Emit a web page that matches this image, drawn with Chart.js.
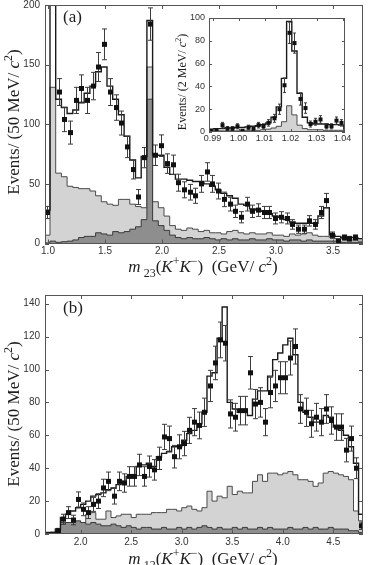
<!DOCTYPE html>
<html>
<head>
<meta charset="utf-8">
<script src="https://cdn.jsdelivr.net/npm/chart.js@4.4.1/dist/chart.umd.min.js"></script>
<style>
  html, body { margin: 0; padding: 0; background: #fff; width: 368px; height: 565px; overflow: hidden; }
  canvas { position: absolute; }
  #cA { left: 0; top: 0; }
  #cB { left: 0; top: 282px; }
  #cI { left: 172px; top: 8px; }
</style>
</head>
<body>
<canvas id="cA" width="368" height="282"></canvas>
<canvas id="cB" width="368" height="283"></canvas>
<canvas id="cI" width="180" height="140"></canvas>
<script>
/* ============================================================
   DATA — 50 MeV bins (panels a, b), 2 MeV bins (inset)
============================================================ */
const LO_A = 0.9675, BIN_A = 0.05;   // m23 bins
const LO_B = 1.65,   BIN_B = 0.05;   // m12 bins
const LO_I = 0.9885, BIN_I = 0.002;  // phi region bins

const dataA = [26, null, 127, 104, 93, 120, 130, 120, 132, 148,
               167, 127, 114, 101, 81, 62, 39, 72, 184, 74,
               82, 67, 66, 51, 45, 43, 40, 50, 60, 50,
               44, 37, 33, 27, 22, 33, 27, 28, 26, 26,
               21, 22, 21, 16, 12, 12, 19, 16, 26, 36,
               7, 2, 5, 4, 5, null];
const fitA  = [28, 420, 121, 114, 109, 112, 118, 126, 132, 144,
               148, 132, 121, 108, 90, 70, 55, 73, 187, 74,
               74, 64, 58, 54, 54, 53, 52, 52, 50, 48,
               45, 42, 40, 38, 33, 32, 29, 28, 27, 25,
               23, 22, 20, 18, 17, 17, 17, 17, 23, 30,
               7, 6, 5, 5, 5, 4];
const lightA = [7, 131, 59, 56, 48, 47, 46, 46, 44, 40,
                35, 33, 32, 37, 37, 33, 31, 30, 148, 35,
                30, 23, 15, 12, 11, 13, 12, 10, 11, 9,
                9, 8, 10, 11, 9, 8, 9, 8, 8, 9,
                7, 7, 6, 8, 7, 8, 9, 7, 6, 6,
                5, 4, 4, 3, 3, 2];
const darkA = [0.5, 2, 1, 1.5, 2, 3, 5, 6, 6, 9,
               8, 7, 10, 9, 10, 12, 14, 20, 121, 19,
               15, 11, 7, 5, 4, 5, 4, 4, 5, 4,
               3, 4, 3, 4, 3, 3, 4, 3, 3, 4,
               3, 3, 2, 3, 3, 2, 3, 2, 2, 2,
               2, 2, 1, 1, 1, 1];

const dataB = [null, null, 2, 9, 13, 8.5, 21, 15, 13, 18,
               20, 28, 32, 23, 32, 31, 35, 35, 42, 35,
               41, 39, 46, 59, 58, 47, 53, 55, 63, 68,
               66, 74, 90, 104, 118, 116, 73, 71, 75, 75,
               98, 79, 80, 68, 86, 90, 95, 95, 107, 114,
               76, 74, 67, 71, 68, 76, 69, 65, 65, 51,
               58, 40, 5];
const fitB  = [1, 1, 3, 10, 12, 14, 16, 18, 20, 23,
               24, 25, 27, 28, 30, 32, 35, 36, 41, 42,
               43, 41, 47, 49, 50, 53, 53, 57, 61, 63,
               67, 74, 96, 98, 119, 138, 80, 76, 74, 74,
               72, 82, 87, 87, 96, 106, 110, 115, 119, 109,
               80, 74, 71, 68, 68, 72, 71, 65, 63, 60,
               53, 43, 12];
const lightB = [0.5, 1, 3, 7, 7, 7, 7, 7, 12, 13,
                9, 9, 14, 10, 11, 12, 12, 10, 12, 12,
                12, 13, 13, 13, 15, 15, 14, 16, 17, 15,
                14, 16, 26, 20, 23, 22, 29, 24, 26, 25,
                25, 32, 36, 32, 37, 37, 36, 37, 38, 36,
                33, 33, 32, 29, 31, 37, 38, 37, 36, 35,
                33, 14, 8];
const darkB = [0.5, 1, 2, 6, 7, 7, 8, 7, 6, 7,
               6, 5, 5, 6, 5, 4, 5, 4, 3, 4,
               4, 3, 3, 4, 3, 3, 4, 3, 4, 3,
               4, 5, 4, 3, 4, 3, 3, 4, 3, 4,
               3, 3, 4, 3, 4, 3, 3, 3, 4, 3,
               3, 4, 3, 4, 3, 3, 4, 3, 3, 3,
               2, 2, 1];

const dataI  = [1, 1, 6, 3, 3, 5, 1, 4, 3, 6, 5, 8, 12, 20, 41, 87, 78, 29, 21, 7, 9, 11, 5, 5, 10, 8];
const fitI   = [2.5, 3, 3, 3.5, 3.5, 4, 4, 4.5, 5, 5.5, 6.5, 8, 13, 22, 47, 97, 71, 34, 13, 8, 7, 7, 7, 6.5, 6.5, 6];
const lightI = [1, 1, 1, 1, 1, 1, 1.5, 1.5, 1.5, 1.5, 2, 2.5, 3.5, 5, 9, 23, 15, 6, 3, 2, 2, 2, 1.5, 1.5, 1.5, 1.5];

const xTitleA = [{t: 'm', i: 1}, {t: ' 23', sub: 1}, {t: '('}, {t: 'K', i: 1}, {t: '+', sup: 1}, {t: 'K', i: 1},
                 {t: '\u2212', sup: 1}, {t: ')  (GeV/ '}, {t: 'c', i: 1}, {t: '2', sup: 1}, {t: ')'}];
const xTitleB = [{t: 'm', i: 1}, {t: ' 12', sub: 1}, {t: '('}, {t: 'K', i: 1}, {t: '+', sup: 1}, {t: 'K', i: 1},
                 {t: '\u2212', sup: 1}, {t: ')  (GeV/ '}, {t: 'c', i: 1}, {t: '2', sup: 1}, {t: ')'}];
const yTitle50 = [{t: 'Events/ (50 MeV/ '}, {t: 'c', i: 1}, {t: '2', sup: 1}, {t: ')'}];
const yTitle2  = [{t: 'Events/ (2 MeV/ '}, {t: 'c', i: 1}, {t: '2', sup: 1}, {t: ')'}];

/* ============================================================
   HELPERS
============================================================ */
const SERIF = '"Liberation Serif", "DejaVu Serif", serif';
const SANS = '"Liberation Sans", Arial, sans-serif';

// histogram outline: points at bin edges, stepped line
function hist(lo, w, vals) {
    const pts = [{x: lo, y: 0}];
    vals.forEach((v, i) => pts.push({x: lo + i * w, y: v}));
    pts.push({x: lo + vals.length * w, y: vals[vals.length - 1]});
    pts.push({x: lo + vals.length * w, y: 0});
    return pts;
}

function richText(ctx, parts, x, y, size, rot) {
    ctx.save();
    ctx.translate(x, y);
    if (rot) ctx.rotate(rot);
    const fontOf = p => (p.i ? 'italic ' : '') + ((p.sub || p.sup) ? Math.round(size * 0.68) : size) + 'px ' + SERIF;
    let total = 0;
    parts.forEach(p => { ctx.font = fontOf(p); total += ctx.measureText(p.t).width; });
    let cx = -total / 2;
    ctx.fillStyle = '#1e1e1e';
    ctx.textBaseline = 'alphabetic';
    ctx.textAlign = 'left';
    parts.forEach(p => {
        ctx.font = fontOf(p);
        const dy = p.sub ? size * 0.3 : p.sup ? -size * 0.42 : 0;
        ctx.fillText(p.t, cx, dy);
        cx += ctx.measureText(p.t).width;
    });
    ctx.restore();
}

// data points with statistical error bars
function drawMarks(chart, o) {
    const {ctx, chartArea: a, scales: {x, y}} = chart;
    ctx.save();
    ctx.beginPath();
    ctx.rect(a.left, a.top, a.right - a.left, a.bottom - a.top);
    ctx.clip();
    ctx.strokeStyle = '#3c3c3c';
    ctx.fillStyle = '#111';
    ctx.lineWidth = 1;
    o.data.forEach((v, i) => {
        if (v === null) return;
        const px = Math.round(x.getPixelForValue(o.lo + (i + 0.5) * o.w)) + 0.5;
        const py = y.getPixelForValue(v);
        const e = Math.sqrt(v);
        const t = y.getPixelForValue(v + e);
        const b = y.getPixelForValue(Math.max(0, v - e));
        ctx.beginPath();
        ctx.moveTo(px, t); ctx.lineTo(px, b);
        ctx.moveTo(px - o.cap, t); ctx.lineTo(px + o.cap, t);
        ctx.moveTo(px - o.cap, b); ctx.lineTo(px + o.cap, b);
        ctx.stroke();
        ctx.fillRect(px - o.sq / 2, py - o.sq / 2, o.sq, o.sq);
    });
    ctx.restore();
}

// box frame with inward ticks on all four sides
function drawFrame(chart, len) {
    const {ctx, chartArea: a, scales: {x, y}} = chart;
    ctx.save();
    ctx.strokeStyle = '#555';
    ctx.lineWidth = 1;
    ctx.strokeRect(Math.round(a.left) + 0.5, Math.round(a.top) + 0.5,
                   Math.round(a.right - a.left) - 1, Math.round(a.bottom - a.top) - 1);
    ctx.beginPath();
    x.ticks.forEach(t => {
        const p = Math.round(x.getPixelForValue(t.value)) + 0.5;
        ctx.moveTo(p, a.bottom); ctx.lineTo(p, a.bottom - len);
        ctx.moveTo(p, a.top); ctx.lineTo(p, a.top + len);
    });
    y.ticks.forEach(t => {
        const p = Math.round(y.getPixelForValue(t.value)) + 0.5;
        ctx.moveTo(a.left, p); ctx.lineTo(a.left + len, p);
        ctx.moveTo(a.right, p); ctx.lineTo(a.right - len, p);
    });
    ctx.stroke();
    ctx.restore();
}

/* ============================================================
   PANEL BUILDER
============================================================ */
function panel(id, o) {
    const datasets = [
        {data: hist(o.lo, o.w, o.fit), borderColor: '#1a1a1a', borderWidth: 1.4, fill: false}
    ];
    if (o.dark) datasets.push({data: hist(o.lo, o.w, o.dark), borderColor: '#3a3a3a', borderWidth: 1,
                               backgroundColor: '#8e8e8e', fill: 'origin'});
    datasets.push({data: hist(o.lo, o.w, o.light), borderColor: '#4a4a4a', borderWidth: 1,
                   backgroundColor: '#d3d3d3', fill: 'origin'});
    datasets.forEach(d => { d.stepped = true; d.pointRadius = 0; d.tension = 0; });

    const zeroPad = s => { s.paddingTop = 0; s.paddingBottom = 0; s.paddingLeft = 0; s.paddingRight = 0; };

    return new Chart(document.getElementById(id), {
        type: 'line',
        data: {datasets},
        options: {
            responsive: false,
            animation: false,
            events: [],
            layout: {padding: o.pad},
            plugins: {legend: {display: false}, tooltip: {enabled: false}},
            scales: {
                x: {
                    type: 'linear', min: o.xmin, max: o.xmax,
                    grid: {display: false, drawTicks: false}, border: {display: false},
                    ticks: {stepSize: o.xstep, includeBounds: false, autoSkip: false, maxRotation: 0,
                            padding: o.xpad, color: '#333', font: {family: SANS, size: o.fs},
                            callback: v => v.toFixed(o.xdec)},
                    afterFit: s => { s.height = o.xh; zeroPad(s); }
                },
                y: {
                    min: 0, max: o.ymax,
                    grid: {display: false, drawTicks: false}, border: {display: false},
                    ticks: {stepSize: o.ystep, includeBounds: false, padding: o.ypad,
                            color: '#333', font: {family: SANS, size: o.fs}},
                    afterFit: s => { s.width = o.yw; zeroPad(s); }
                }
            }
        },
        plugins: [{
            id: 'overlay',
            afterDatasetsDraw(chart) {
                drawMarks(chart, o);
                drawFrame(chart, o.tick);
                o.texts(chart.ctx);
            }
        }]
    });
}

/* ============================================================
   PANEL (a)
============================================================ */
panel('cA', {
    lo: LO_A, w: BIN_A, data: dataA, fit: fitA, light: lightA, dark: darkA,
    xmin: 0.9737, xmax: 3.763, xstep: 0.5, xdec: 1, ymax: 200, ystep: 50,
    pad: {top: 5, right: 5, left: 0, bottom: 0}, xh: 38.5, yw: 45, xpad: 2, ypad: 5,
    fs: 10, tick: 4, sq: 5, cap: 2.5,
    texts(ctx) {
        ctx.save();
        ctx.font = '17px ' + SERIF;
        ctx.fillStyle = '#1e1e1e';
        ctx.fillText('(a)', 63, 22);
        ctx.restore();
        richText(ctx, xTitleA, 203, 272, 17);
        richText(ctx, yTitle50, 19, 122, 17, -Math.PI / 2);
    }
});

/* ============================================================
   PANEL (b)
============================================================ */
panel('cB', {
    lo: LO_B, w: BIN_B, data: dataB, fit: fitB, light: lightB, dark: darkB,
    xmin: 1.647, xmax: 4.794, xstep: 0.5, xdec: 1, ymax: 145.3, ystep: 20,
    pad: {top: 13, right: 5, left: 0, bottom: 0}, xh: 31, yw: 45, xpad: 2.5, ypad: 5,
    fs: 10, tick: 4, sq: 5, cap: 2.5,
    texts(ctx) {
        ctx.save();
        ctx.font = '17px ' + SERIF;
        ctx.fillStyle = '#1e1e1e';
        ctx.fillText('(b)', 63, 31);
        ctx.restore();
        richText(ctx, xTitleB, 203, 282, 17);
        richText(ctx, yTitle50, 19, 132, 17, -Math.PI / 2);
    }
});

/* ============================================================
   INSET — phi region
============================================================ */
panel('cI', {
    lo: LO_I, w: BIN_I, data: dataI, fit: fitI, light: lightI, dark: null,
    xmin: 0.98865, xmax: 1.04096, xstep: 0.01, xdec: 2, ymax: 100, ystep: 20,
    pad: {top: 10, right: 7, left: 0, bottom: 0}, xh: 16, yw: 37, xpad: 1, ypad: 4,
    fs: 9, tick: 3, sq: 4, cap: 1.5,
    texts(ctx) {
        richText(ctx, yTitle2, 14, 74, 12, -Math.PI / 2);
    }
});
</script>
</body>
</html>
